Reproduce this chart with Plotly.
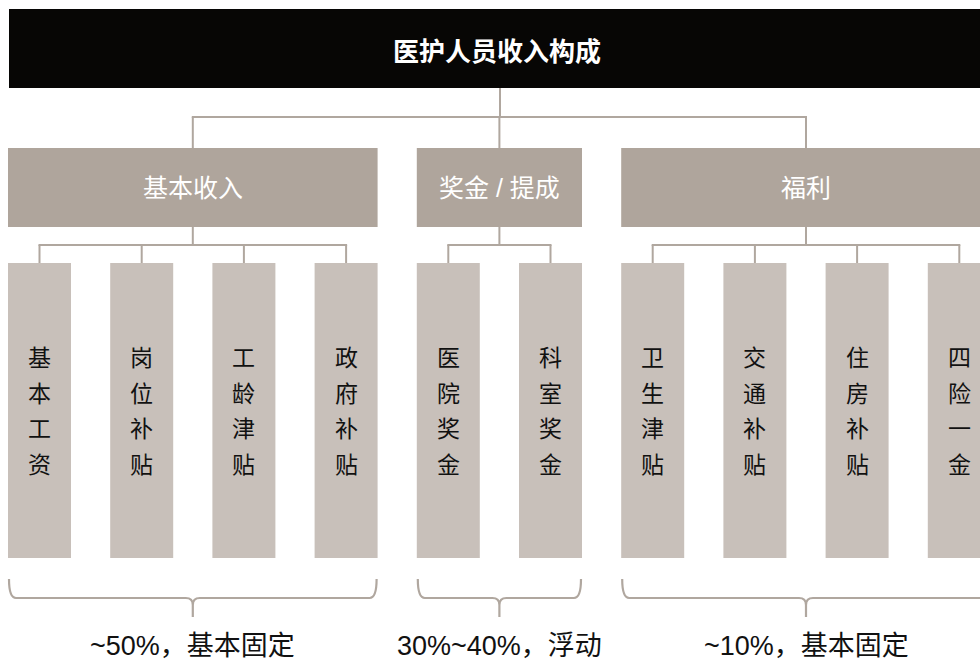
import plotly.graph_objects as go

# ---- data ----
title = "医护人员收入构成"
groups = ["基本收入", "奖金 / 提成", "福利"]
group_items = [
    ["基本工资", "岗位补贴", "工龄津贴", "政府补贴"],
    ["医院奖金", "科室奖金"],
    ["卫生津贴", "交通补贴", "住房补贴", "四险一金"],
]
shares = ["~50%，基本固定", "30%~40%，浮动", "~10%，基本固定"]

# ---- styles / layout parameters ----
W, H = 980, 662
BLACK = "#070605"
GROUP_C = "#afa59c"
LEAF_C = "#c8c0ba"
LINE_C = "#b0a79f"
FONT = "Arial, 'Liberation Sans', 'Noto Sans CJK SC', sans-serif"
CJK_BOLD = "'Noto Sans CJK SC', 'Liberation Sans', sans-serif"

left0 = 8
pitch = 102.2
leaf_w = 63
title_box = (9, 983, 9, 88)
conn_y = 117
g_top, g_bot = 148, 227
sub_y = 245
leaf_top, leaf_bot = 263, 558
char_step = 35.7
brace_top, brace_mid, brace_tip = 579, 598, 617
label_y = 646

shapes = []
ann = []

def rect(x0, x1, y0, y1, color):
    shapes.append(dict(type="rect", xref="x", yref="y", x0=x0, x1=x1, y0=y0, y1=y1,
                       fillcolor=color, line=dict(width=0), layer="below"))

def line(x0, y0, x1, y1, w=2):
    shapes.append(dict(type="line", xref="x", yref="y", x0=x0, y0=y0, x1=x1, y1=y1,
                       line=dict(color=LINE_C, width=w)))

# title
rect(title_box[0], title_box[1], title_box[2], title_box[3], BLACK)
ann.append(dict(x=497, y=(title_box[2] + title_box[3]) / 2 + 1,
                text="<b>" + title + "</b>", showarrow=False,
                font=dict(family=CJK_BOLD, size=26, color="white")))

idx = 0
centers = []
for gi, (g, items) in enumerate(zip(groups, group_items)):
    n = len(items)
    gx0 = left0 + idx * pitch
    gx1 = left0 + (idx + n - 1) * pitch + leaf_w
    gc = (gx0 + gx1) / 2
    centers.append(gc)
    rect(gx0, gx1, g_top, g_bot, GROUP_C)
    ann.append(dict(x=gc, y=(g_top + g_bot) / 2, text=g, showarrow=False,
                    font=dict(family=FONT, size=25, color="white")))
    line(gc, conn_y, gc, g_top)
    line(gc, g_bot, gc, sub_y)
    leaf_cs = []
    for k, it in enumerate(items):
        lx0 = left0 + (idx + k) * pitch
        lc = lx0 + leaf_w / 2
        leaf_cs.append(lc)
        rect(lx0, lx0 + leaf_w, leaf_top, leaf_bot, LEAF_C)
        line(lc, sub_y, lc, leaf_top)
        mid = (leaf_top + leaf_bot) / 2 + 1
        for ci, ch in enumerate(it):
            ann.append(dict(x=lc, y=mid + (ci - (len(it) - 1) / 2) * char_step, text=ch,
                            showarrow=False, font=dict(family=FONT, size=23, color="#111111")))
    line(leaf_cs[0] - 1, sub_y, leaf_cs[-1] + 1, sub_y)
    # brace
    bx0, bx1 = gx0 + 1, gx1 - 1
    r = 7
    path = (f"M {bx0},{brace_top} Q {bx0},{brace_mid} {bx0 + r},{brace_mid} "
            f"L {gc - r},{brace_mid} Q {gc},{brace_mid} {gc},{brace_mid + r} L {gc},{brace_tip} "
            f"M {gc},{brace_mid + r} Q {gc},{brace_mid} {gc + r},{brace_mid} "
            f"L {bx1 - r},{brace_mid} Q {bx1},{brace_mid} {bx1},{brace_top}")
    shapes.append(dict(type="path", xref="x", yref="y", path=path,
                       line=dict(color=LINE_C, width=2.2)))
    ann.append(dict(x=gc, y=label_y, text=shares[gi], showarrow=False,
                    font=dict(family=FONT, size=27, color="#111111")))
    idx += n

# top connectors
line(500, title_box[3], 500, conn_y)
line(centers[0] - 1, conn_y, centers[-1] + 1, conn_y)

fig = go.Figure()
fig.update_layout(
    width=W, height=H, margin=dict(l=0, r=0, t=0, b=0),
    paper_bgcolor="white", plot_bgcolor="white",
    xaxis=dict(range=[0, W], visible=False, fixedrange=True),
    yaxis=dict(range=[H, 0], visible=False, fixedrange=True),
    shapes=shapes, annotations=ann, showlegend=False,
)
fig.write_html("out.html")
